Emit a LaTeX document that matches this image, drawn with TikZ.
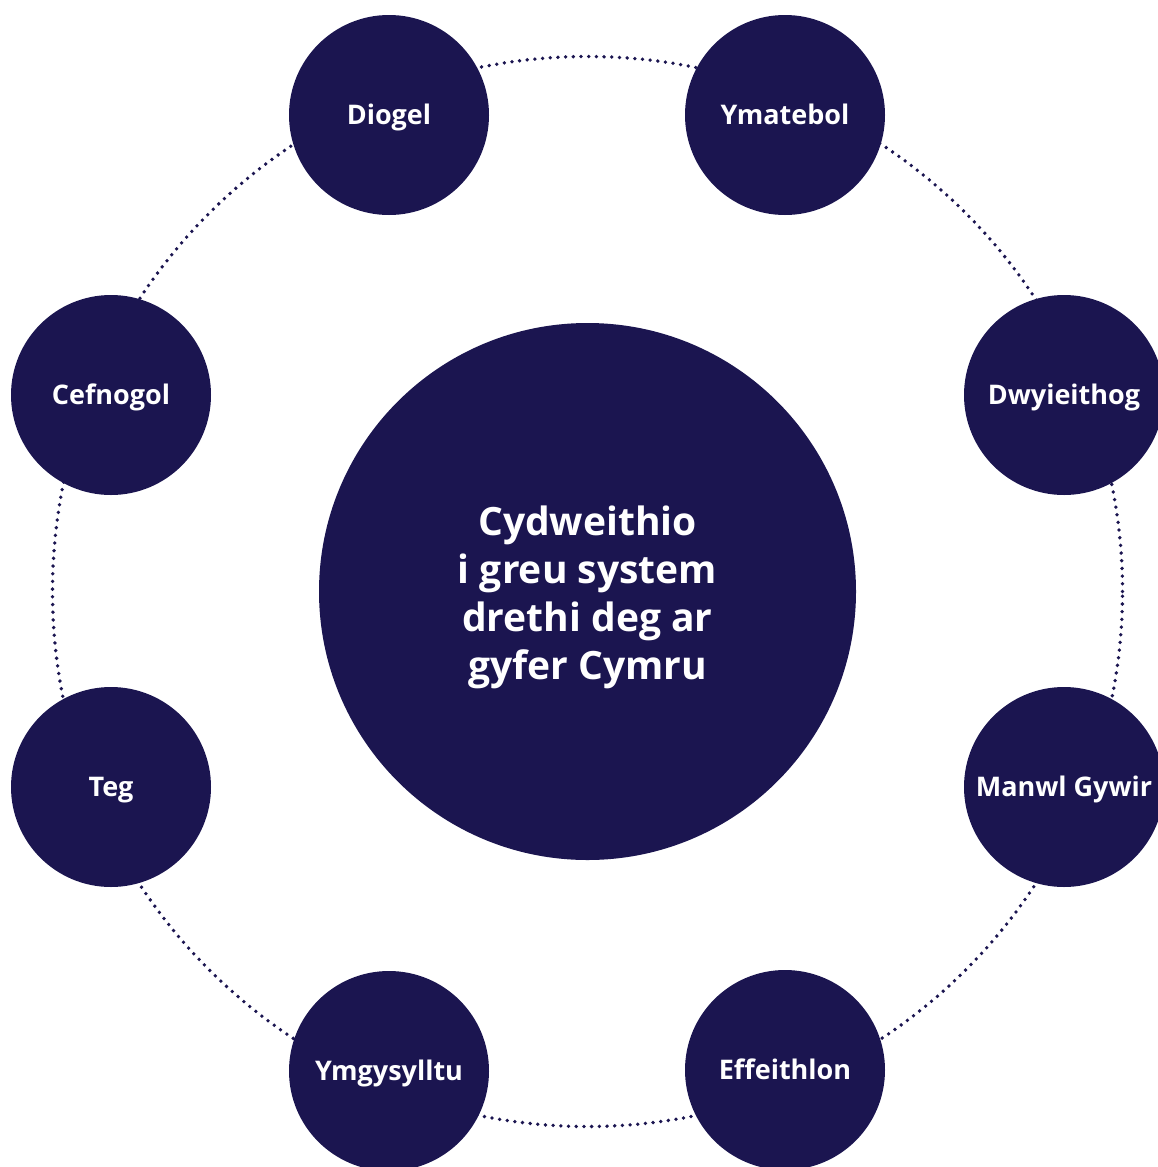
\documentclass[tikz,border=0pt]{standalone}
\usepackage{fontspec}
\setmainfont{Open Sans}
\definecolor{navy}{HTML}{1B1550}
\begin{document}
\begin{tikzpicture}[x=1pt,y=-1pt,
  small/.style={circle,fill=navy,minimum size=200pt,inner sep=0pt,text=white,text height=19pt,text depth=0pt,font=\fontsize{27}{32}\selectfont\bfseries},
  big/.style={circle,fill=navy,minimum size=537pt,inner sep=0pt},
  bigtext/.style={inner sep=0pt,text=white,align=center,font=\fontsize{39}{48}\selectfont\bfseries},
  ring/.style={draw=navy,line width=3.8pt,line cap=round,dash pattern=on 0pt off 7.7pt}]
\useasboundingbox (0,0) rectangle (1158,1167);
\clip (0,0) rectangle (1158,1167);
\coordinate (c) at (587.5,591.5);
\draw[ring] (c) circle[radius=535pt];
\node[big] (centre) at (c) {};
\node[bigtext] (centretext) at ([yshift=-6pt]centre.center) {Cydweithio\\i greu system\\drethi deg ar\\gyfer Cymru};
\node[small] (diogel) at (389,115) {Diogel};
\node[small] (ymatebol) at (785,115) {Ymatebol};
\node[small] (dwyieithog) at (1064,395) {Dwyieithog};
\node[small] (manwl) at (1064,787) {Manwl Gywir};
\node[small] (effeithlon) at (785,1070) {Effeithlon};
\node[small] (ymgysylltu) at (389,1071) {Ymgysylltu};
\node[small] (teg) at (111,787) {Teg};
\node[small] (cefnogol) at (111,395) {Cefnogol};
\end{tikzpicture}
\end{document}
